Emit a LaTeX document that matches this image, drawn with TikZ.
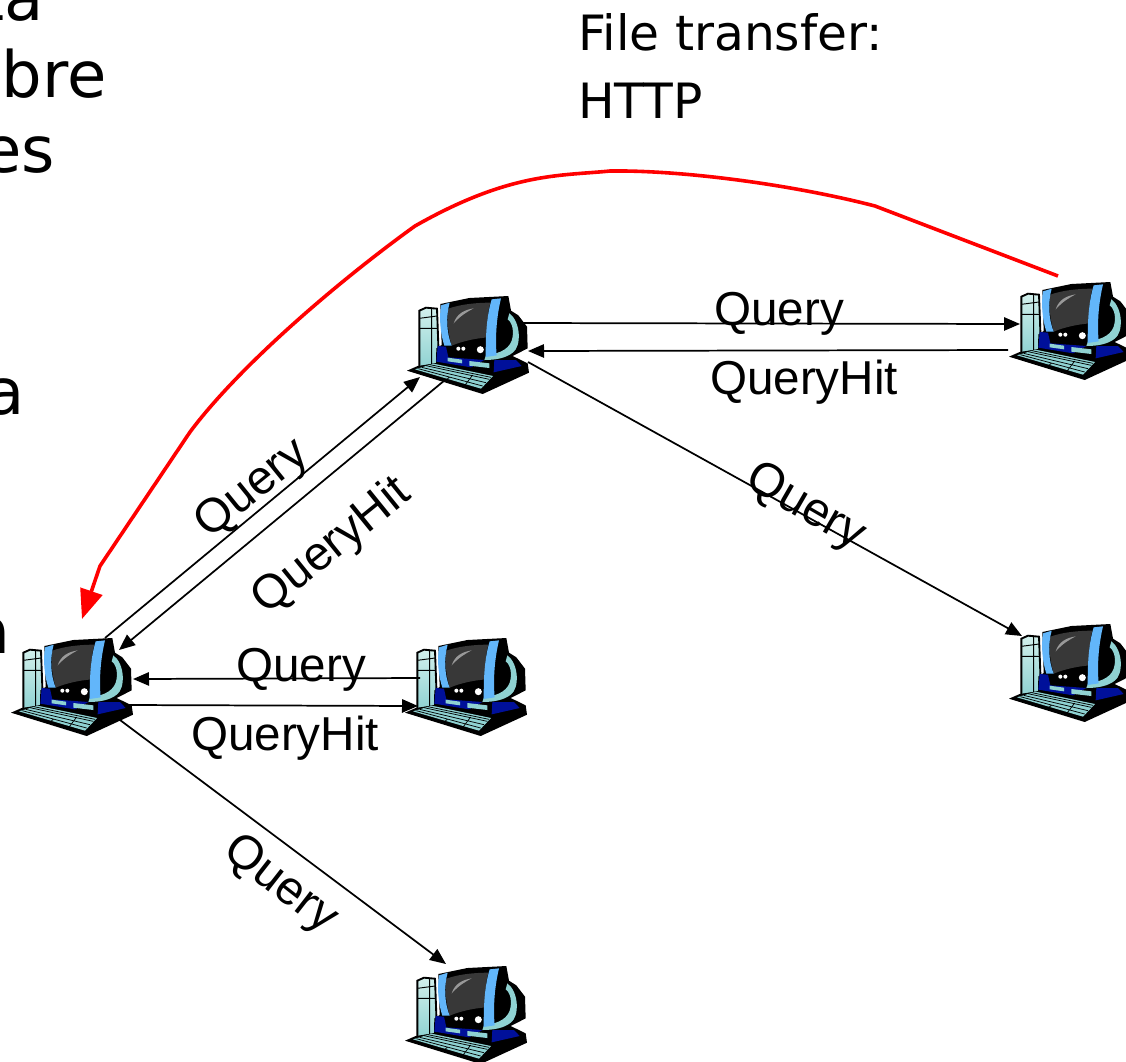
\documentclass[tikz,border=0pt]{standalone}
\usepackage{fontspec}
\setmainfont{Liberation Sans}
\newfontfamily\djv{DejaVu Sans}
\usetikzlibrary{arrows.meta}
\definecolor{pcteal}{HTML}{8FD2D2}
\definecolor{pcpale}{HTML}{D2F0EC}
\definecolor{pcblue}{HTML}{62B6FA}
\definecolor{pcnavy}{HTML}{00109A}
\definecolor{pcgrey}{HTML}{383838}
\tikzset{
  x=0.75pt,y=-0.75pt,
  link/.style={draw=black,line width=1.3pt,-{Triangle[length=12pt,width=10pt]}},
  redlink/.style={draw=red,line width=2.7pt,-{Triangle[length=22pt,width=17pt]}},
  lab/.style={font=\fontsize{35.7}{36}\selectfont,inner sep=0pt},
  big/.style={font=\djv\fontsize{48}{48}\selectfont,inner sep=0pt,anchor=base east},
  ftp/.style={font=\djv\fontsize{36.5}{37}\selectfont,inner sep=0pt,anchor=base west},
  pcanchor/.style={inner sep=0pt,minimum width=90pt,minimum height=90pt},
  pics/pc/.style={code={
    \node[pcanchor] (-n) at (0,0) {};
    \begin{scope}[x=0.25pt,y=-0.25pt,shift={(-195,-195)}]
      % tower
      \draw[black,line width=1.4pt,top color=pcpale,bottom color=pcteal]
        (55,262) -- (55,92) -- (75,83) -- (108,86) -- (114,250) -- cycle;
      \draw[black,line width=.7pt] (55,115) -- (108,108) (55,145)--(108,145) (92,85)--(92,258);
      % black silhouette
      \fill[black] (118,72) -- (205,54) -- (322,48) -- (330,92) -- (352,106) -- (378,140) -- (380,205)
        -- (335,228) -- (380,250) -- (384,278) -- (245,342) -- (18,272) -- (50,258) -- (105,250)
        -- (106,205) -- (122,195) -- cycle;
      % navy body
      \fill[pcnavy] (106,245) -- (110,198) -- (135,200) -- (142,232) -- (250,240) -- (210,262) -- cycle;
      \fill[pcnavy] (280,240) -- (345,240) -- (362,258) -- (278,277) -- cycle;
      % stand arc
      \fill[pcteal] (325,100) .. controls (360,125) and (362,200) .. (335,218)
        .. controls (315,234) and (285,240) .. (250,240) -- (255,226)
        .. controls (300,220) and (330,205) .. (335,170) .. controls (338,140) and (330,125) .. (320,118) -- cycle;
      % screen
      \fill[pcgrey] (142,86) .. controls (180,72) and (230,68) .. (268,68)
        .. controls (258,100) and (258,140) .. (262,172) .. controls (220,175) and (180,185) .. (152,197)
        .. controls (142,160) and (136,120) .. (142,86) -- cycle;
      \fill[gray!80] (158,130) .. controls (168,100) and (190,90) .. (218,85)
        .. controls (195,97) and (178,108) .. cycle;
      % side strips
      \fill[pcblue] (120,76) -- (146,68) .. controls (134,110) and (137,160) .. (152,197) -- (130,197)
        .. controls (118,160) and (114,115) .. cycle;
      \fill[pcblue] (272,58) -- (300,55) .. controls (287,110) and (282,170) .. (287,226) -- (254,231)
        .. controls (254,170) and (256,110) .. cycle;
      % buttons
      \fill[white] (172,206) circle (6) (187,206) circle (6) (238,209) circle (10.5);
      % small bars
      \fill[pcteal] (140,233) -- (183,239) -- (183,250) -- (140,244) -- cycle;
      \fill[pcteal] (205,243) -- (265,250) -- (265,264) -- (205,257) -- cycle;
      % keyboard
      \fill[pcteal] (42,268) -- (98,251) -- (276,288) -- (240,326) -- cycle;
      \draw[black,line width=.55pt] (62,262) -- (255,308) (75,257) -- (265,298) (87,254) -- (270,292)
        (52,266) -- (245,318) (215,285) -- (190,318) (145,292) -- (135,300);
    \end{scope}
  }}
}
\begin{document}
\begin{tikzpicture}
\useasboundingbox (0,0) rectangle (1126,1061);
\clip (0,0) rectangle (1126,1061);
% computers
\pic (p1) at (466,345) {pc};
\pic (p2) at (1068,331) {pc};
\pic (p3) at (1068,673) {pc};
\pic (p4) at (70,687) {pc};
\pic (p5) at (464,687) {pc};
\pic (p6) at (464,1015) {pc};
% connectors
\draw[link] ([shift={(52,-22)}]p1-n.center) -- ([shift={(-48,-7)}]p2-n.center);
\draw[link] ([shift={(-60,19)}]p2-n.center) -- ([shift={(62,6)}]p1-n.center);
\draw[link] ([shift={(62,17)}]p1-n.center) -- ([shift={(-46,-37)}]p3-n.center);
\draw[link] ([shift={(35,-49)}]p4-n.center) -- ([shift={(-46,32)}]p1-n.center);
\draw[link] ([shift={(-21,35)}]p1-n.center) -- ([shift={(49,-37)}]p4-n.center);
\draw[link] ([shift={(-44,-9)}]p5-n.center) -- ([shift={(63,-8)}]p4-n.center);
\draw[link] ([shift={(58,18)}]p4-n.center) -- ([shift={(-46,19)}]p5-n.center);
\draw[link] ([shift={(50,33)}]p4-n.center) -- ([shift={(-18,-51)}]p6-n.center);
\draw[redlink] ([shift={(-10,-55)}]p2-n.center) -- (875,206)
  .. controls (790,184) and (680,170) .. (610,171)
  .. controls (560,176) and (510,172) .. (415,226)
  .. controls (340,280) and (240,365) .. (190,432)
  -- (100,566) -- ([shift={(12,-68)}]p4-n.center);
% labels
\node[lab] (l1) at (779,314) {Query};
\node[lab] (l2) at (804,382) {QueryHit};
\node[lab,rotate=-30] (l3) at (805,508) {Query};
\node[lab,rotate=39] (l4) at (253,490) {Query};
\node[lab,rotate=39] (l5) at (332,547) {QueryHit};
\node[lab] (l6) at (301,670) {Query};
\node[lab] (l7) at (285,738) {QueryHit};
\node[lab,rotate=-38] (l8) at (280,885) {Query};
\node[ftp] (t1) at (578,50) {File transfer:};
\node[ftp] (t2) at (578,118) {HTTP};
\node[big] (b1) at (44,20) {ta};
\node[big] (b2) at (107,97) {bre};
\node[big] (b3) at (55,172) {es};
\node[big] (b4) at (25,414) {a};
\node[big] (b5) at (11,653) {a};
\end{tikzpicture}
\end{document}
